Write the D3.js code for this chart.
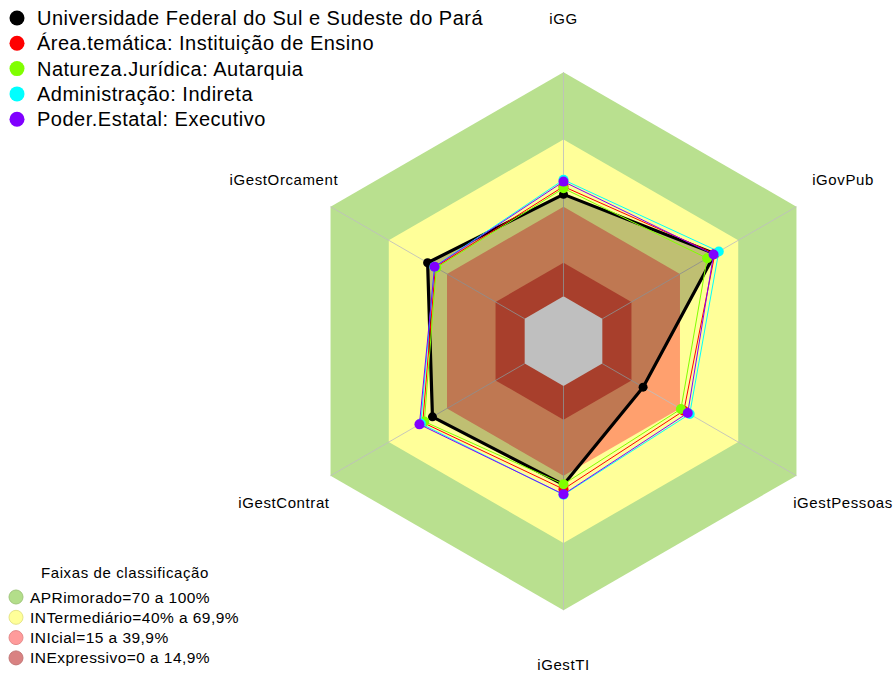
<!DOCTYPE html>
<html><head><meta charset="utf-8">
<script src="https://cdn.jsdelivr.net/npm/d3@7"></script>
<style>html,body{margin:0;padding:0;background:#fff;}svg{display:block;font-family:"Liberation Sans",Arial,sans-serif;}</style>
</head><body>
<svg id="chart" width="896" height="674"></svg>
<script>
const axes = ["iGG","iGovPub","iGestPessoas","iGestTI","iGestContrat","iGestOrcament"];
const seriesNames = ["Universidade Federal do Sul e Sudeste do Pará","Área.temática: Instituição de Ensino","Natureza.Jurídica: Autarquia","Administração: Indireta","Poder.Estatal: Executivo"];
const seriesColors = ["#000000","#FF0000","#80FF00","#00FFFF","#8000FF"];
const unifesspa   = [45.5, 58.0, 21.0, 44.0, 47.5, 50.0];
const areaTemat   = [49.0, 58.0, 42.0, 46.0, 52.5, 46.0];
const natureza    = [48.2, 54.0, 40.5, 43.8, 51.7, 45.5];
const administ    = [52.0, 60.0, 45.0, 48.5, 53.5, 46.5];
const poderEstat  = [51.2, 57.3, 44.0, 48.3, 54.2, 46.4];
const seriesValues = [unifesspa, areaTemat, natureza, administ, poderEstat];
const bandBreaks = [0, 15, 40, 70, 100];
const bandFill = ["#E0553B","#FFA06E","#FFFF99","#B9E08F"];
const bandLegendLabels = ["APRimorado=70 a 100%","INTermediário=40% a 69,9%","INIcial=15 a 39,9%","INExpressivo=0 a 14,9%"];
const bandLegendColors = ["#B3DE8A","#FFFF99","#FF9B9B","#D98282"];
const legendTitle = "Faixas de classificação";

const svg = d3.select("#chart");
const cx = 563.5, cy = 341.2, R = 269;
const r = d3.scaleLinear().domain([0,100]).range([R/6, R]);
const ang = d3.scaleLinear().domain([0, axes.length]).range([0, 2*Math.PI]);
const pt = (v,i) => [cx + r(v)*Math.sin(ang(i)), cy - r(v)*Math.cos(ang(i))];
const hex = v => axes.map((a,i)=>pt(v,i));
const line = d3.line().curve(d3.curveLinearClosed);

// bands, outer to inner
const g = svg.append("g");
for (let k = bandBreaks.length-1; k >= 1; k--) {
  g.append("path").attr("d", line(hex(bandBreaks[k]))).attr("fill", bandFill[k-1]);
}
g.append("path").attr("d", line(hex(0))).attr("fill", "#FFFFFF");

// radial axes
axes.forEach((a,i)=>{
  const p0 = pt(0,i), p1 = pt(100,i);
  g.append("line").attr("x1",p0[0]).attr("y1",p0[1]).attr("x2",p1[0]).attr("y2",p1[1])
   .attr("stroke","rgba(190,190,190,0.85)").attr("stroke-width",1);
});

// series
seriesValues.forEach((vals,s)=>{
  const pts = vals.map((v,i)=>pt(v,i));
  if (s===0) {
    g.append("path").attr("d", line(pts)).attr("fill","rgba(0,0,0,0.25)")
     .attr("stroke","#000").attr("stroke-width",3.2).attr("stroke-linejoin","round");
  } else {
    g.append("path").attr("d", line(pts)).attr("fill","none")
     .attr("stroke",seriesColors[s]).attr("stroke-width",1);
  }
  g.selectAll(null).data(pts).enter().append("circle")
   .attr("cx",d=>d[0]).attr("cy",d=>d[1]).attr("r", s===0?4.5:5)
   .attr("fill",seriesColors[s]);
});

// axis labels
axes.forEach((a,i)=>{
  const x = cx + 1.2*R*Math.sin(ang(i)), y = cy - 1.2*R*Math.cos(ang(i));
  svg.append("text").attr("x",x).attr("y",y).attr("text-anchor","middle")
   .attr("dominant-baseline","central").attr("font-size",15).attr("letter-spacing",0.6)
   .attr("fill","#000").text(a);
});

// top legend
seriesNames.forEach((n,i)=>{
  const y = 18 + i*25.3;
  svg.append("circle").attr("cx",17).attr("cy",y).attr("r",7.5).attr("fill",seriesColors[i]);
  svg.append("text").attr("x",37).attr("y",y).attr("dominant-baseline","central")
   .attr("font-size",20).attr("letter-spacing",0.5).attr("fill","#000").text(n);
});

// bottom legend
svg.append("text").attr("x",125).attr("y",572).attr("text-anchor","middle")
 .attr("dominant-baseline","central").attr("font-size",15).attr("letter-spacing",0.6).text(legendTitle);
bandLegendLabels.forEach((n,i)=>{
  const y = 597 + i*20.3;
  svg.append("circle").attr("cx",16).attr("cy",y).attr("r",7).attr("fill",bandLegendColors[i])
   .attr("stroke", d3.color(bandLegendColors[i]).darker(0.3)).attr("stroke-width",1);
  svg.append("text").attr("x",30).attr("y",y).attr("dominant-baseline","central")
   .attr("font-size",15.5).attr("letter-spacing",0.45).text(n);
});
</script>
</body></html>
